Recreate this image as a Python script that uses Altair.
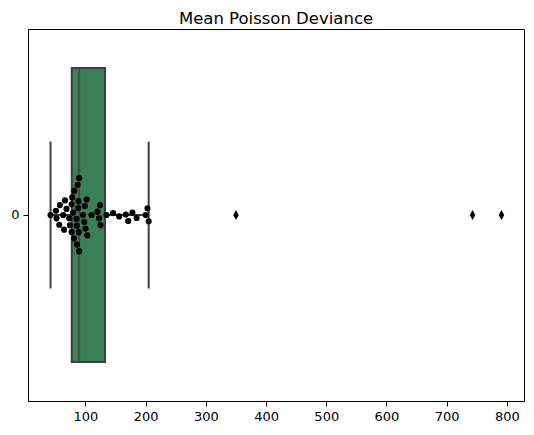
import altair as alt
import numpy as np
import pandas as pd

# Values (Mean Poisson Deviance, one group "0").
GROUP = "0"
SWARM_VALUES = [
    42, 51, 52, 56.5, 57.5, 63, 64.5, 66, 68.5, 73,
    74, 77, 77, 78, 79.5, 81, 81.5, 85, 85.5, 86,
    87, 88, 88.5, 89, 89.5, 89.5, 96, 98, 99, 100,
    102, 103, 110, 120, 122.5, 124, 125, 135, 146, 156,
    167, 171, 178, 185, 200, 203, 205,
]
OUTLIER_VALUES = [350, 743, 791]
X_TICKS = [100, 200, 300, 400, 500, 600, 700, 800]

BOX_FILL = "#3a7f58"
GRAY = "#3f3f3f"
FONT = "DejaVu Sans"

WIDTH, HEIGHT = 496, 372
DOT_DIAMETER = 6.9  # px

all_values = SWARM_VALUES + OUTLIER_VALUES
span = max(all_values) - min(all_values)
x_domain = [min(all_values) - 0.05 * span, max(all_values) + 0.05 * span]
px_per_unit = WIDTH / (x_domain[1] - x_domain[0])


def swarm_offsets(values, scale, d):
    """Simple beeswarm: place each point (sorted by value) at the free offset closest to 0."""
    values = np.asarray(values, dtype=float)
    offsets = np.zeros(len(values))
    placed = []
    for i in np.argsort(values, kind="stable"):
        x = values[i] * scale
        near = [(px, py) for px, py in placed if abs(px - x) < d]
        cands = [0.0]
        for px, py in near:
            dy = np.sqrt(d * d - (px - x) ** 2)
            cands += [py + dy, py - dy]
        cands.sort(key=abs)
        for c in cands:
            if all((px - x) ** 2 + (py - c) ** 2 >= d * d - 1e-6 for px, py in near):
                offsets[i] = c
                placed.append((x, c))
                break
    return offsets


box_df = pd.DataFrame({"group": GROUP, "value": all_values})
swarm_df = pd.DataFrame({"value": SWARM_VALUES})
swarm_df["offset"] = swarm_offsets(SWARM_VALUES, px_per_unit, DOT_DIAMETER)

x_enc = alt.X(
    "value:Q",
    title=None,
    scale=alt.Scale(domain=x_domain, nice=False, zero=False),
    axis=alt.Axis(values=X_TICKS, grid=False),
)

box = (
    alt.Chart(box_df)
    .mark_boxplot(
        extent=1.5,
        size=294,
        color=BOX_FILL,
        box={"stroke": GRAY, "strokeWidth": 2},
        median={"color": GRAY, "thickness": 2},
        rule={"color": GRAY, "strokeWidth": 2},
        ticks={"color": GRAY, "size": 147, "thickness": 2},
        outliers={
            "shape": "M0,-1L0.55,0L0,1L-0.55,0Z",
            "filled": True,
            "color": "black",
            "size": 100,
            "opacity": 1,
        },
    )
    .encode(
        x=x_enc,
        y=alt.Y(
            "group:N",
            title=None,
            scale=alt.Scale(paddingInner=0, paddingOuter=0),
            axis=alt.Axis(labelAngle=0, grid=False),
        ),
    )
)

swarm = (
    alt.Chart(swarm_df)
    .mark_circle(size=38, color="black", opacity=1)
    .encode(
        x=x_enc,
        y=alt.Y("offset:Q", scale=alt.Scale(domain=[-HEIGHT / 2, HEIGHT / 2], nice=False), axis=None),
    )
)

chart = (
    alt.layer(box, swarm)
    .resolve_scale(y="independent")
    .properties(
        width=WIDTH,
        height=HEIGHT,
        title=alt.Title(
            "Mean Poisson Deviance",
            fontSize=16.5,
            font=FONT,
            fontWeight="normal",
            color="black",
            anchor="middle",
            offset=2,
        ),
        autosize=alt.AutoSizeParams(type="none"),
        padding={"left": 20, "top": 21, "right": 2, "bottom": 26},
    )
    .configure(background="white", font=FONT)
    .configure_axis(
        labelFont=FONT,
        labelFontSize=13,
        labelColor="black",
        tickColor="black",
        domainColor="black",
        tickSize=5,
        labelPadding=4,
    )
    .configure_view(stroke="black", strokeWidth=1)
)

chart.save("out.html", embed_options={"renderer": "svg", "actions": False})
